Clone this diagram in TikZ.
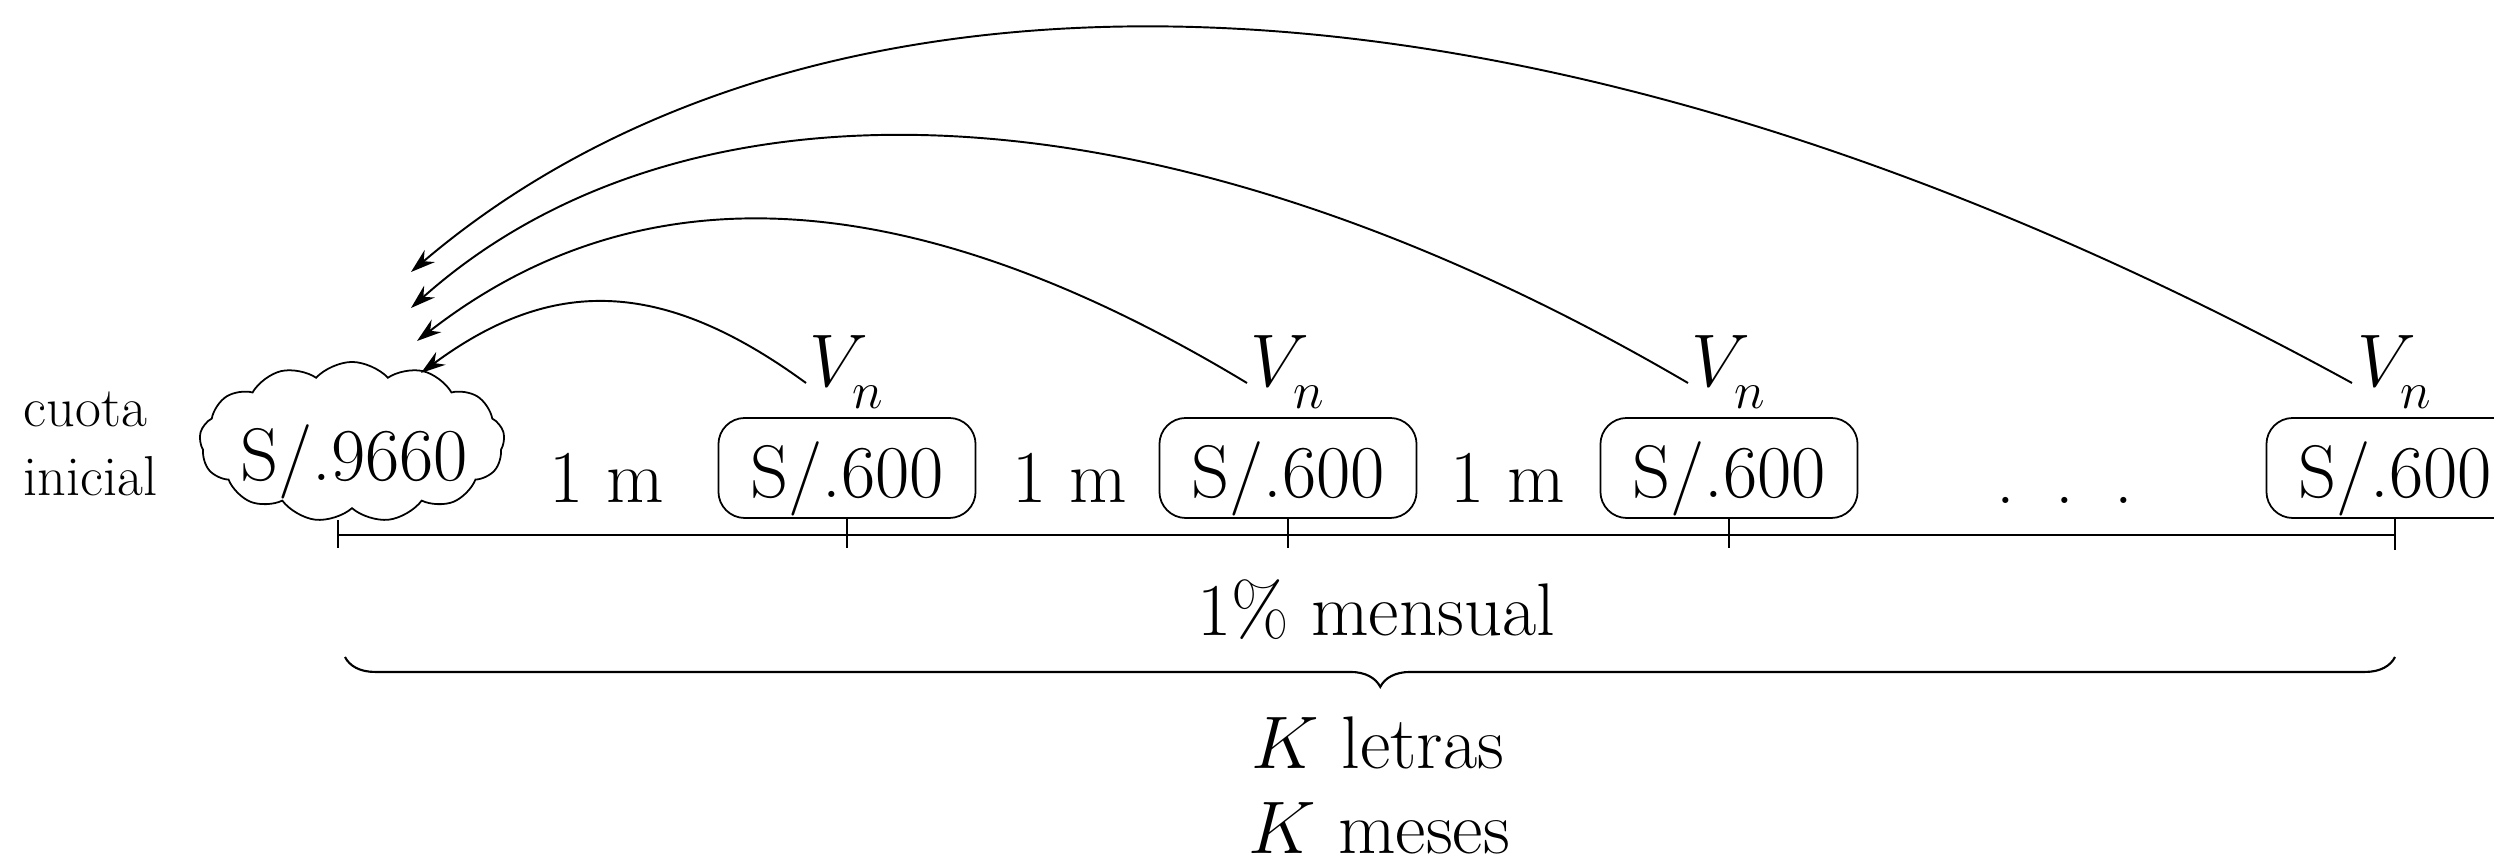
\RequirePackage{fix-cm}
\documentclass[tikz,border=0pt]{standalone}
\usetikzlibrary{shapes.symbols,decorations.pathreplacing,arrows.meta}
\newcommand{\Bigfnt}{\fontsize{21.2pt}{25pt}\selectfont}
\newcommand{\Smallfnt}{\fontsize{16pt}{19.3pt}\selectfont}
\newcommand{\Vsub}{$V_{\lower2.8pt\hbox{$\scriptstyle n$}}$}
\begin{document}
\begin{tikzpicture}[x=0.01cm,y=-0.01cm,
  lbl/.style={inner sep=0pt, anchor=base, font=\Bigfnt},
  small/.style={inner sep=0pt, anchor=base west, font=\Smallfnt},
  pay/.style={draw, rounded corners=7.5pt, line width=0.5pt, inner sep=0pt,
    minimum width=2.57cm, text height=22.76pt, text depth=5.69pt,
    anchor=base, font=\Bigfnt},
  axisline/.style={line width=0.85pt},
  tickline/.style={line width=0.6pt},
  arc/.style={line width=0.55pt, -{Stealth[length=7pt,width=4.5pt]}}]
\useasboundingbox (0,0) rectangle (2494,861);
\clip (0,0) rectangle (2494,861);

% left label
\node[small] (cuo) at (23,427) {cuota};
\node[small] (ini) at (23,495) {inicial};

% cloud
\node[cloud, draw, cloud puffs=13, cloud puff arc=95, cloud ignores aspect,
  minimum width=3.05cm, minimum height=1.6cm, line width=0.5pt, inner sep=0pt]
  (cl) at (352,442) {};
\node[lbl] (clt) at (354,480) {S/.9660};

% payment boxes
\node[pay] (b1) at (847,498) {S/.600};
\node[pay] (b2) at (1288,498) {S/.600};
\node[pay] (b3) at (1729,498) {S/.600};
\node[pay] (b4) at (2395,498) {S/.600};

% V_n labels
\node[lbl] (v1) at (847,387) {\Vsub};
\node[lbl] (v2) at (1288,387) {\Vsub};
\node[lbl] (v3) at (1729,387) {\Vsub};
\node[lbl] (v4) at (2395,387) {\Vsub};

% period labels
\node[lbl] (m1) at (607,502) {1 m};
\node[lbl] (m2) at (1070,502) {1 m};
\node[lbl] (m3) at (1508,502) {1 m};
\node[lbl] (dd) at (2065,503) {.\hspace{0.54em}.\hspace{0.54em}.};

% time axis
\coordinate (a0) at (338,535);
\coordinate (a4) at (2395,535);
\draw[axisline] (a0) -- (a4);
\coordinate (k0t) at (338,520);
\coordinate (k0) at (338,548);
\coordinate (k1) at (847,548);
\coordinate (k2) at (1288,548);
\coordinate (k3) at (1729,548);
\coordinate (k4) at (2395,550);
\draw[tickline] (k0t) -- (k0);
\draw[tickline] (b1.south) -- (k1);
\draw[tickline] (b2.south) -- (k2);
\draw[tickline] (b3.south) -- (k3);
\draw[tickline] (b4.south) -- (k4);

% rate and brace
\node[lbl] (pct) at (1376,635) {1\% mensual};
\coordinate (br0) at (345,657);
\coordinate (br1) at (2395,657);
\draw[line width=0.6pt, decorate,
  decoration={brace, mirror, amplitude=8.5pt, aspect=0.505}] (br0) -- (br1);
\node[lbl] (kl) at (1378,768) {$K$ letras};
\node[lbl] (km) at (1379,853) {$K$ meses};

% arcs
\coordinate (s1) at (806,383);
\coordinate (s2) at (1247,383);
\coordinate (s3) at (1688,383);
\coordinate (s4) at (2352,383);
\coordinate (e1) at (421,373);
\coordinate (e2) at (417,341);
\coordinate (e3) at (411,308);
\coordinate (e4) at (411,272);
\draw[arc] (s1) .. controls (661,277) and (551,277) .. (e1);
\draw[arc] (s2) .. controls (899,173) and (633,173) .. (e2);
\draw[arc] (s3) .. controls (1150,68) and (680,68) .. (e3);
\draw[arc] (s4) .. controls (1525,-70) and (813,-70) .. (e4);
\end{tikzpicture}
\end{document}
